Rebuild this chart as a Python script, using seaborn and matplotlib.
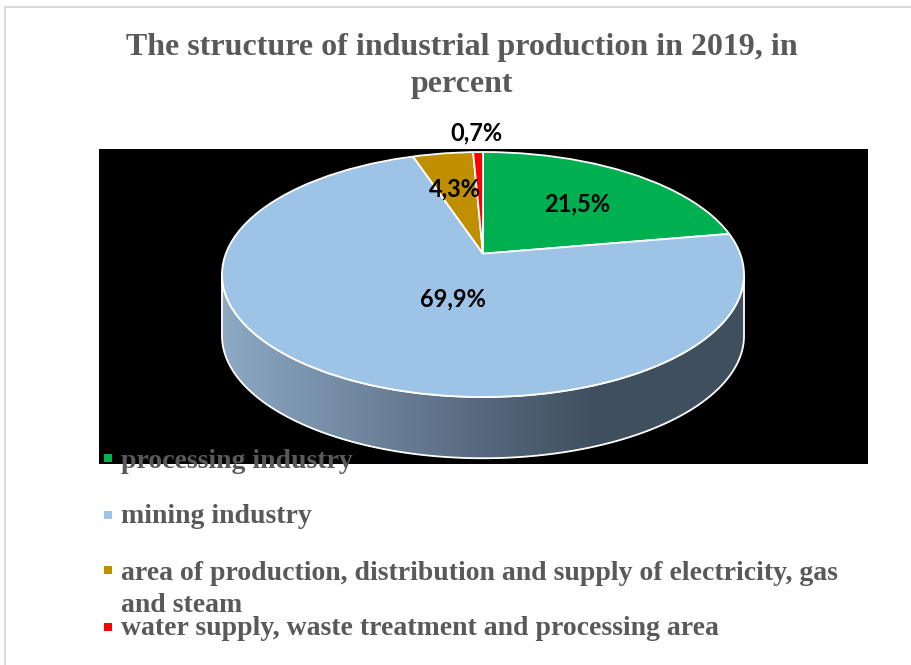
import numpy as np
import matplotlib
matplotlib.use("Agg")
import matplotlib.pyplot as plt
import seaborn as sns
from matplotlib.patches import Rectangle, Polygon, Circle
from matplotlib.colors import LinearSegmentedColormap
from matplotlib.lines import Line2D

# ---------------- data ----------------
title_lines = ["The structure of industrial production in 2019, in", "percent"]
categories = [
    "processing industry",
    "mining industry",
    "area of production, distribution and supply of electricity, gas\nand steam",
    "water supply, waste treatment and processing area",
]
values = [21.5, 69.9, 4.3, 0.7]
colors = ["#00B050", "#9DC3E6", "#BF8F00", "#FF0000"]

# ---------------- layout / style ----------------
W, H = 912, 665
plot_box = (99, 868, 149, 464)           # left, right, top, bottom (px)
pie_c = (483, 274.5)                     # ellipse centre (px)
pie_r = (261, 122.5)                     # ellipse radii (px)
apex_shift = 0.17                        # perspective: apex sits above ellipse centre
depth = 0.5                              # side wall height in pie radii
label_r = [0.68, 0.23, 0.71, 1.155]
label_shift = [8, 1, -2, 0]
legend_marker_y = [458, 515, 570, 627]
legend_baseline_y = [468, 523, 580, 635]
legend_line_step = 32
text_grey = "#595959"

sns.set_theme(style="white")
palette = sns.color_palette(colors)
plt.rcParams["font.family"] = ["DejaVu Sans"]

fig = plt.figure(figsize=(W / 100, H / 100), dpi=100)
fig.patch.set_facecolor("white")

# outer frame lines (top & left visible)
fig.add_artist(Line2D([5 / W, 1], [1 - 7 / H, 1 - 7 / H], color="#d9d9d9", lw=1.5,
                      transform=fig.transFigure))
fig.add_artist(Line2D([5 / W, 5 / W], [0, 1 - 7 / H], color="#d9d9d9", lw=1.5,
                      transform=fig.transFigure))

x0, x1, y0, y1 = plot_box
ax = fig.add_axes([x0 / W, 1 - y1 / H, (x1 - x0) / W, (y1 - y0) / H])

wedges, _ = ax.pie(values, colors=palette, startangle=90, counterclock=False, radius=1.4,
                   center=(0, apex_shift),
                   wedgeprops=dict(edgecolor="white", linewidth=1.3, zorder=3))
clip = Circle((0, 0), 1, transform=ax.transData)
for w in wedges:
    w.set_clip_on(True)
    w.set_clip_path(clip)
ax.add_patch(Circle((0, 0), 1, fill=False, edgecolor="white", lw=1.3, zorder=4))

# side wall of the 3-D pie
t = np.linspace(np.pi, 2 * np.pi, 400)
top = np.column_stack([np.cos(t), np.sin(t)])
bot = np.column_stack([np.cos(t[::-1]), np.sin(t[::-1]) - depth])
side = Polygon(np.vstack([top, bot]), closed=True, facecolor="none",
               edgecolor="white", lw=1.3, zorder=2)
ax.add_patch(side)
cmap = LinearSegmentedColormap.from_list(
    "side", [(0, "#8DA9C4"), (0.5, "#56687D"), (0.72, "#3F4F5E"), (1, "#3F4F5E")])
grad = np.linspace(0, 1, 256).reshape(1, -1)
im = ax.imshow(grad, cmap=cmap, extent=(-1, 1, -1 - depth, 0), aspect="auto", zorder=1.5)
im.set_clip_path(side)

cx, cy = pie_c
rx, ry = pie_r
ax.set_aspect("auto")
ax.set_xlim(-(cx - x0) / rx, (x1 - cx) / rx)
ax.set_ylim(-(y1 - cy) / ry, (cy - y0) / ry)
ax.set_frame_on(True)
ax.set_facecolor("black")
for s in ax.spines.values():
    s.set_visible(False)
ax.set_xticks([])
ax.set_yticks([])

# data labels
for w, v, r, sh in zip(wedges, values, label_r, label_shift):
    ang = np.deg2rad((w.theta1 + w.theta2) / 2 + sh)
    ax.text(r * np.cos(ang), r * np.sin(ang), f"{v:.1f}".replace(".", ",") + "%",
            ha="center", va="center", fontsize=17, fontweight="bold",
            family=["Lato", "DejaVu Sans"], color="black", zorder=6, clip_on=False)

# title
for line, base in zip(title_lines, [55, 92]):
    fig.text(462 / W, 1 - base / H, line, ha="center", va="baseline", fontsize=23,
             fontweight="bold", family=["Liberation Serif", "DejaVu Serif"], color=text_grey)

# legend
for cat, col, my, by in zip(categories, palette, legend_marker_y, legend_baseline_y):
    fig.add_artist(Rectangle((104 / W, 1 - (my + 4) / H), 8 / W, 8 / H, facecolor=col,
                             edgecolor="none", transform=fig.transFigure, zorder=5))
    for j, part in enumerate(cat.split("\n")):
        fig.text(121 / W, 1 - (by + j * legend_line_step) / H, part, ha="left", va="baseline",
                 fontsize=20, fontweight="bold",
                 family=["Liberation Serif", "DejaVu Serif"], color=text_grey, zorder=5)

fig.savefig("out.png", dpi=100, facecolor="white")
